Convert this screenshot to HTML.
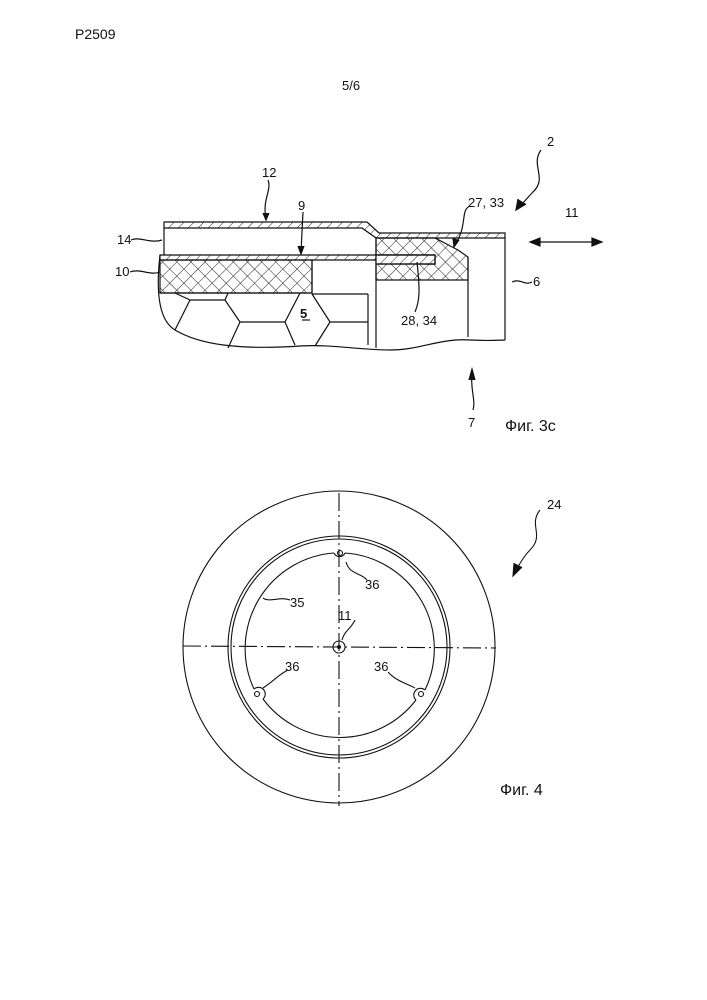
<!DOCTYPE html>
<html><head><meta charset="utf-8"><style>
html,body{margin:0;padding:0;background:#fff}
svg{display:block}
text{font-family:"Liberation Sans",sans-serif;fill:#111}
</style></head><body>
<svg width="707" height="1000" viewBox="0 0 707 1000" xmlns="http://www.w3.org/2000/svg">
<defs>
<pattern id="h" width="7" height="7" patternUnits="userSpaceOnUse" patternTransform="rotate(45)">
<line x1="0" y1="0" x2="0" y2="7" stroke="#222" stroke-width="1"/></pattern>
<pattern id="x" width="10" height="10" patternUnits="userSpaceOnUse" patternTransform="rotate(45)">
<line x1="0" y1="0" x2="0" y2="10" stroke="#222" stroke-width="1"/>
<line x1="0" y1="0" x2="10" y2="0" stroke="#222" stroke-width="1"/></pattern>
</defs>
<g stroke="#111" stroke-width="1.2" fill="none">
<path d="M164,222 L367,222 L379,233 L505,233 L505,238 L376,238 L362,228 L164,228 Z" fill="url(#h)"/>
<line x1="164" y1="228" x2="164" y2="255"/>
<path d="M160,255 L435,255 L435,264 L425,264 L425,260 L160,260 Z" fill="url(#h)"/>
<rect x="160" y="260" width="152" height="33" fill="url(#x)"/>
<path d="M376,238 L435,238 L458,250 L468,257 L468,280 L376,280 Z" fill="url(#x)"/>
<path d="M376,255 L435,255 L435,264 L376,264" fill="#fff"/>
<path d="M378,255 L435,255 L435,264 L378,264" fill="url(#h)"/>
<line x1="312" y1="260" x2="312" y2="293"/>
<line x1="312" y1="294" x2="368" y2="294"/>
<line x1="160" y1="293" x2="312" y2="293"/>
<line x1="368" y1="294" x2="368" y2="345"/>
<line x1="376" y1="238" x2="376" y2="348"/>
<line x1="468" y1="257" x2="468" y2="337"/>
<line x1="505" y1="238" x2="505" y2="340"/>
<path d="M160,255 C156,290 158,320 175,330 C200,345 240,350 300,346 C330,344 360,350 390,350 C420,350 440,338 470,340 C490,341 500,340 505,340"/>
<path d="M175,330 L190,300 L225,300 L240,322 L285,322 L300,293 M240,322 L228,348 M190,300 L175,293 M225,300 L228,293 M285,322 L295,345"/>
<path d="M312,294 L330,322 L368,322 M330,322 L315,346"/>
<path d="M268,180 C272,190 262,200 266,218" /><path d="M263,213 L266,220 L269,213" fill="#111"/>
<path d="M303,212 L301,252"/><path d="M298,246 L301,254 L304,246" fill="#111"/>
<path d="M131,240 C140,236 150,244 162,240"/>
<path d="M130,272 C140,268 150,276 160,272"/>
<path d="M470,206 C460,210 468,225 455,245"/><path d="M453,238 L454,247 L459,240" fill="#111"/>
<path d="M415,312 C420,300 420,290 417,262"/>
<path d="M541,150 C530,165 548,178 533,192 C528,197 526,200 520,206"/><path d="M518,199 L516,210 L526,204" fill="#111"/>
<path d="M512,282 C520,278 525,286 532,282"/>
<path d="M473,410 C476,400 470,390 472,372"/><path d="M469,380 L472,369 L475,380" fill="#111"/>
<line x1="532" y1="242" x2="600" y2="242"/>
<path d="M540,238 L530,242 L540,246 Z M592,238 L602,242 L592,246 Z" fill="#111"/>
</g>
<line x1="302" y1="320" x2="310" y2="320" stroke="#111" stroke-width="1.2"/>
<g stroke="#111" stroke-width="1.1" fill="none">
<circle cx="339" cy="647" r="156"/>
<circle cx="339" cy="647" r="111"/>
<circle cx="339" cy="647" r="108"/>
<path d="M334,553 A96,96 0 0 0 254,689 M263,699 A96,96 0 0 0 416,700 M425,690 A96,96 0 0 0 345,553"/>
<path d="M334,553 A6,6 0 0 0 345,553 M254,689 A6,6 0 0 1 263,699 M416,700 A6,6 0 0 1 425,690"/>
<circle cx="340" cy="553" r="2.5"/>
<circle cx="257" cy="694" r="2.5"/>
<circle cx="421" cy="694" r="2.5"/>
<circle cx="339" cy="647" r="6"/>
<line x1="339" y1="493" x2="339" y2="806" stroke-dasharray="18,4,2,4"/>
<line x1="183" y1="646" x2="496" y2="648" stroke-dasharray="18,4,2,4"/>
<path d="M346,562 C350,575 360,572 367,580"/>
<path d="M263,598 C270,603 280,596 290,600"/>
<path d="M342,640 C345,630 350,630 355,620"/>
<path d="M263,688 C275,680 278,675 288,670"/>
<path d="M415,688 C405,683 395,680 388,672"/>
<path d="M540,510 C528,525 545,535 530,550 C525,555 522,560 516,570"/><path d="M514,563 L513,576 L522,567" fill="#111"/>
</g>
<circle cx="339" cy="647" r="2" fill="#111"/>
<g font-size="13">
<text x="75" y="39" font-size="14">P2509</text>
<text x="342" y="90">5/6</text>
<text x="262" y="177">12</text>
<text x="298" y="210">9</text>
<text x="117" y="244">14</text>
<text x="115" y="276">10</text>
<text x="300" y="318" font-weight="bold">5</text>
<text x="401" y="325">28, 34</text>
<text x="468" y="207">27, 33</text>
<text x="547" y="146">2</text>
<text x="565" y="217">11</text>
<text x="533" y="286">6</text>
<text x="468" y="427">7</text>
<text x="547" y="509">24</text>
<text x="365" y="589">36</text>
<text x="290" y="607">35</text>
<text x="338" y="620">11</text>
<text x="285" y="671">36</text>
<text x="374" y="671">36</text>
</g>
<g font-size="16">
<text x="505" y="431">Фиг. 3c</text>
<text x="500" y="795">Фиг. 4</text>
</g>
</svg>
</body></html>
